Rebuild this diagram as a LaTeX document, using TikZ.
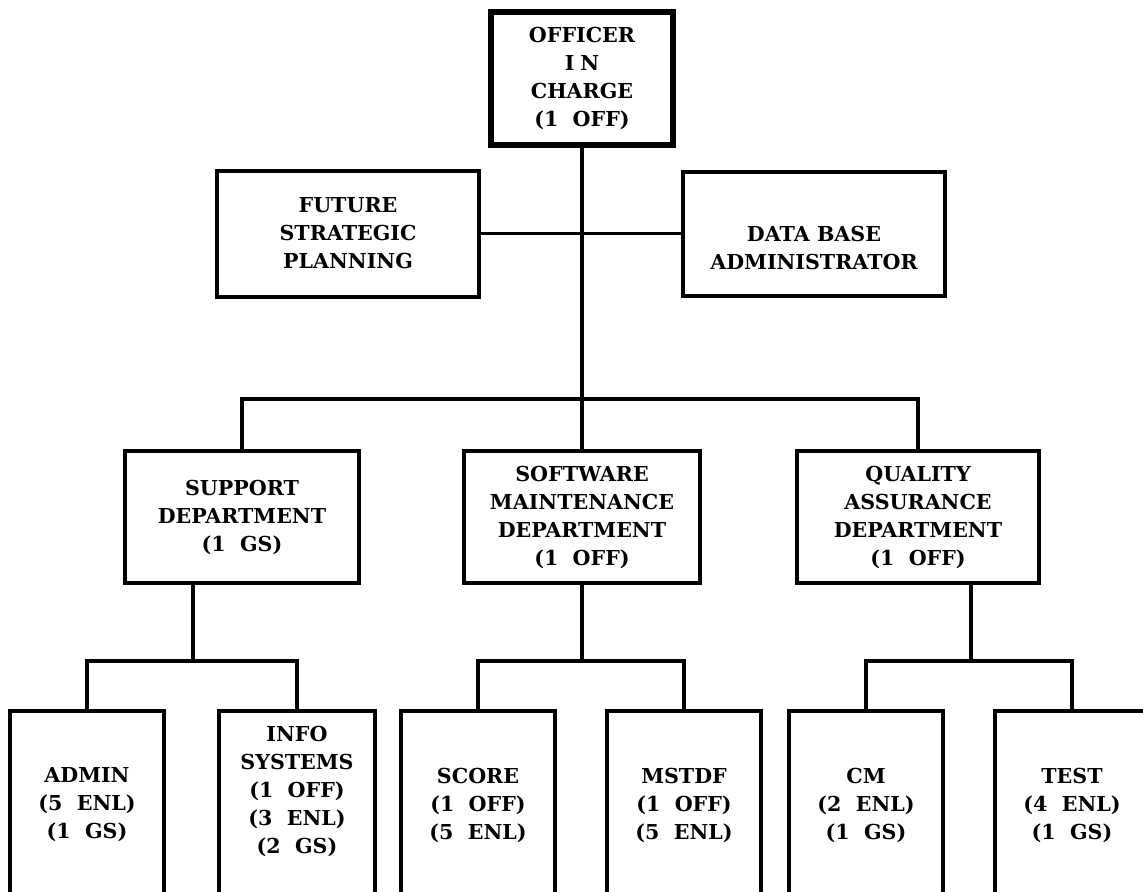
\documentclass[tikz,border=0pt]{standalone}
\usepackage{fontspec}
\setmainfont{DejaVu Serif}
\begin{document}
\begin{tikzpicture}[x=0.5pt,y=-0.5pt,
		unit/.style={draw,line width=2pt,align=center,inner sep=0pt,
			font=\bfseries\fontsize{10.3}{14}\selectfont},
		cell/.style={unit,minimum width=77pt,minimum height=94pt},
		link/.style={line width=1.6pt}]
		\useasboundingbox (0,0) rectangle (1143,891);
		\clip (0,0) rectangle (1143,891);

		% Officer in charge and staff
		\node[unit,line width=2.8pt,minimum width=91pt,minimum height=66.5pt] (oic) at (582,78.5) {OFFICER\\I\hspace{3pt}N\\CHARGE\\(1~~OFF)};
		\node[unit,minimum width=131pt,minimum height=63pt] (fsp) at (348,233.5) {FUTURE\\STRATEGIC\\PLANNING};
		\node[unit,minimum width=131pt,minimum height=62pt] (dba) at (814,233.5) {\rule{0pt}{22.5pt}DATA BASE\\ADMINISTRATOR};

		% Departments
		\node[unit,minimum width=117pt,minimum height=66pt] (sup) at (242,517) {SUPPORT\\DEPARTMENT\\(1~~GS)};
		\node[unit,minimum width=118pt,minimum height=66pt] (swm) at (582,517) {SOFTWARE\\MAINTENANCE\\DEPARTMENT\\(1~~OFF)};
		\node[unit,minimum width=121pt,minimum height=66pt] (qa) at (918,517) {QUALITY\\ASSURANCE\\DEPARTMENT\\(1~~OFF)};

		% Divisions
		\node[cell] (admin) at (87,805) {ADMIN\\(5~~ENL)\\(1~~GS)};
		\node[cell,minimum width=78pt] (info) at (297,805) {INFO\\SYSTEMS\\(1~~OFF)\\(3~~ENL)\\(2~~GS)\rule[-15.5pt]{0pt}{0pt}};
		\node[cell] (score) at (478,805) {SCORE\\(1~~OFF)\\(5~~ENL)};
		\node[cell] (mstdf) at (684,805) {MSTDF\\(1~~OFF)\\(5~~ENL)};
		\node[cell] (cm) at (866,805) {CM\\(2~~ENL)\\(1~~GS)};
		\node[cell] (test) at (1072,805) {TEST\\(4~~ENL)\\(1~~GS)};

		% Junctions
		\coordinate (bus) at (582,399);
		\coordinate (supj) at (193,661);
		\coordinate (swmj) at (582,661);
		\coordinate (qaj) at (971,661);

		% Connectors
		\draw[link] (oic) -- (swm);
		\draw[link] (fsp) -- (dba);
		\draw[link] (sup) |- (bus) -| (qa);
		\draw[link] (sup.south -| supj) -- (supj);
		\draw[link] (admin) |- (supj) -| (info);
		\draw[link] (swm) -- (swmj);
		\draw[link] (score) |- (swmj) -| (mstdf);
		\draw[link] (qa.south -| qaj) -- (qaj);
		\draw[link] (cm) |- (qaj) -| (test);
	\end{tikzpicture}
\end{document}
